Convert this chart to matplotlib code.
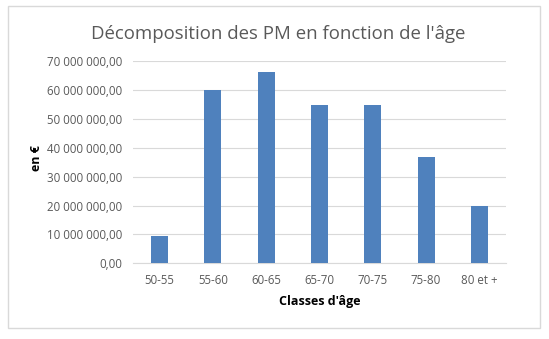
import matplotlib
matplotlib.use("Agg")
import matplotlib.pyplot as plt
from matplotlib.ticker import FuncFormatter, MultipleLocator
from matplotlib.patches import Rectangle

categories = ["50-55", "55-60", "60-65", "65-70", "70-75", "75-80", "80 et +"]
values = [9_300_000, 59_900_000, 66_300_000, 54_700_000, 54_700_000, 36_700_000, 20_000_000]

title = "Décomposition des PM en fonction de l'âge"
xlabel = "Classes d'âge"
ylabel = "en €"

W, H = 549, 339
fig = plt.figure(figsize=(W / 100, H / 100), dpi=100)
fig.patch.set_facecolor("white")

# outer chart border
fig.patches.append(Rectangle((8 / W, 1 - 328 / H), (540 - 8) / W, (328 - 6) / H,
                             transform=fig.transFigure, fill=False,
                             edgecolor="#d9d9d9", linewidth=1.0))

left, right = 133 / W, 506 / W
bottom, top = 1 - 263.3 / H, 1 - 61.3 / H
ax = fig.add_axes([left, bottom, right - left, top - bottom])

x = range(len(categories))
ax.bar(x, values, width=0.32, color="#4F81BD", zorder=3)
ax.set_xlim(-0.5, len(categories) - 0.5)
ax.set_ylim(0, 70_000_000)
ax.yaxis.set_major_locator(MultipleLocator(10_000_000))

def fmt(v, pos):
    s = f"{int(round(v)):,}".replace(",", " ")
    return s + ",00"

ax.yaxis.set_major_formatter(FuncFormatter(fmt))
ax.set_xticks(list(x))
ax.set_xticklabels(categories)

ax.grid(axis="y", color="#d9d9d9", linewidth=0.8, zorder=0)
for s in ["top", "right", "left"]:
    ax.spines[s].set_visible(False)
ax.spines["bottom"].set_color("#d9d9d9")
ax.tick_params(axis="both", length=0, labelsize=8.3, colors="#595959")
ax.tick_params(axis="y", pad=8)
ax.tick_params(axis="x", pad=8)
for lab in ax.get_xticklabels() + ax.get_yticklabels():
    lab.set_family("Open Sans")

fig.text(278 / W, 1 - 34 / H, title, ha="center", va="center", fontsize=13.4,
         color="#595959", family="Open Sans")
fig.text(320 / W, 1 - 302 / H, xlabel, ha="center", va="center", fontsize=9,
         fontweight="bold", color="black", family="Open Sans")
fig.text(37 / W, 1 - 158 / H, ylabel, ha="center", va="center", fontsize=9,
         fontweight="bold", color="black", rotation=90, family="Open Sans")

fig.savefig("out.png", dpi=100)
